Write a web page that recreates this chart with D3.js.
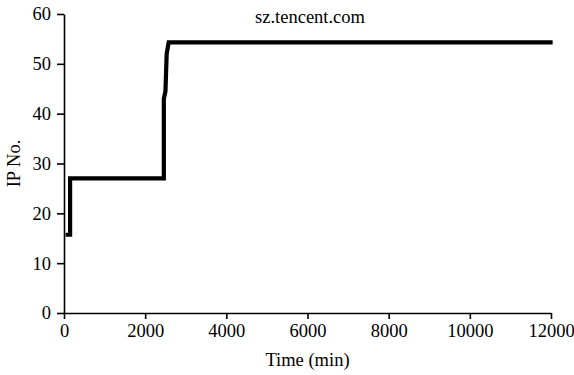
<!DOCTYPE html>
<html>
<head>
<meta charset="utf-8">
<script src="https://cdn.jsdelivr.net/npm/d3@7"></script>
<style>
  body { margin: 0; background: #fff; }
  svg text { font-family: 'Liberation Serif', serif; fill: #000; }
</style>
</head>
<body>
<div id="chart"></div>
<script>
// time (min) vs number of IPs
var times = [40, 150, 150, 2460, 2460, 2500, 2530, 2540, 2580, 12040];
var ipNo  = [15.7, 15.7, 27, 27, 43, 44.5, 52, 52.5, 54.3, 54.3];
var xTicks = [0, 2000, 4000, 6000, 8000, 10000, 12000];
var yTicks = [0, 10, 20, 30, 40, 50, 60];
var title = 'sz.tencent.com';

var width = 574, height = 375;
var margin = {top: 14, right: 23, bottom: 62, left: 64};
var serif = 'Liberation Serif, serif';
var fs = 18.5;

var svg = d3.select('#chart').append('svg')
  .attr('width', width)
  .attr('height', height);

var x = d3.scaleLinear().domain([0, 12000]).range([margin.left, width - margin.right]);
var y = d3.scaleLinear().domain([0, 60]).range([height - margin.bottom, margin.top]);

var xAxis = svg.append('g')
  .attr('transform', 'translate(0,' + (height - margin.bottom) + ')')
  .call(d3.axisBottom(x).tickValues(xTicks).tickFormat(d3.format('d'))
    .tickSize(6).tickSizeOuter(0).tickPadding(5));
var yAxis = svg.append('g')
  .attr('transform', 'translate(' + margin.left + ',0)')
  .call(d3.axisLeft(y).tickValues(yTicks).tickFormat(d3.format('d'))
    .tickSize(7).tickSizeOuter(0).tickPadding(6));

[xAxis, yAxis].forEach(function(a) {
  a.attr('font-family', serif).attr('font-size', fs);
  a.selectAll('path, line').attr('stroke', '#000').attr('stroke-width', 1.6);
});

var pts = times.map(function(t, i) { return [t, ipNo[i]]; });
var line = d3.line()
  .x(function(d) { return x(d[0]); })
  .y(function(d) { return y(d[1]); });

svg.append('path')
  .datum(pts)
  .attr('d', line)
  .attr('fill', 'none')
  .attr('stroke', '#000')
  .attr('stroke-width', 4.2)
  .attr('stroke-linejoin', 'miter');

svg.append('text')
  .attr('x', 310).attr('y', 23)
  .attr('text-anchor', 'middle')
  .attr('font-family', serif).attr('font-size', fs)
  .text(title);

svg.append('text')
  .attr('x', (margin.left + width - margin.right) / 2)
  .attr('y', 366)
  .attr('text-anchor', 'middle')
  .attr('font-family', serif).attr('font-size', fs)
  .text('Time (min)');

svg.append('text')
  .attr('transform', 'translate(20,' + y(30) + ') rotate(-90)')
  .attr('text-anchor', 'middle')
  .attr('font-family', serif).attr('font-size', fs)
  .text('IP No.');
</script>
</body>
</html>
